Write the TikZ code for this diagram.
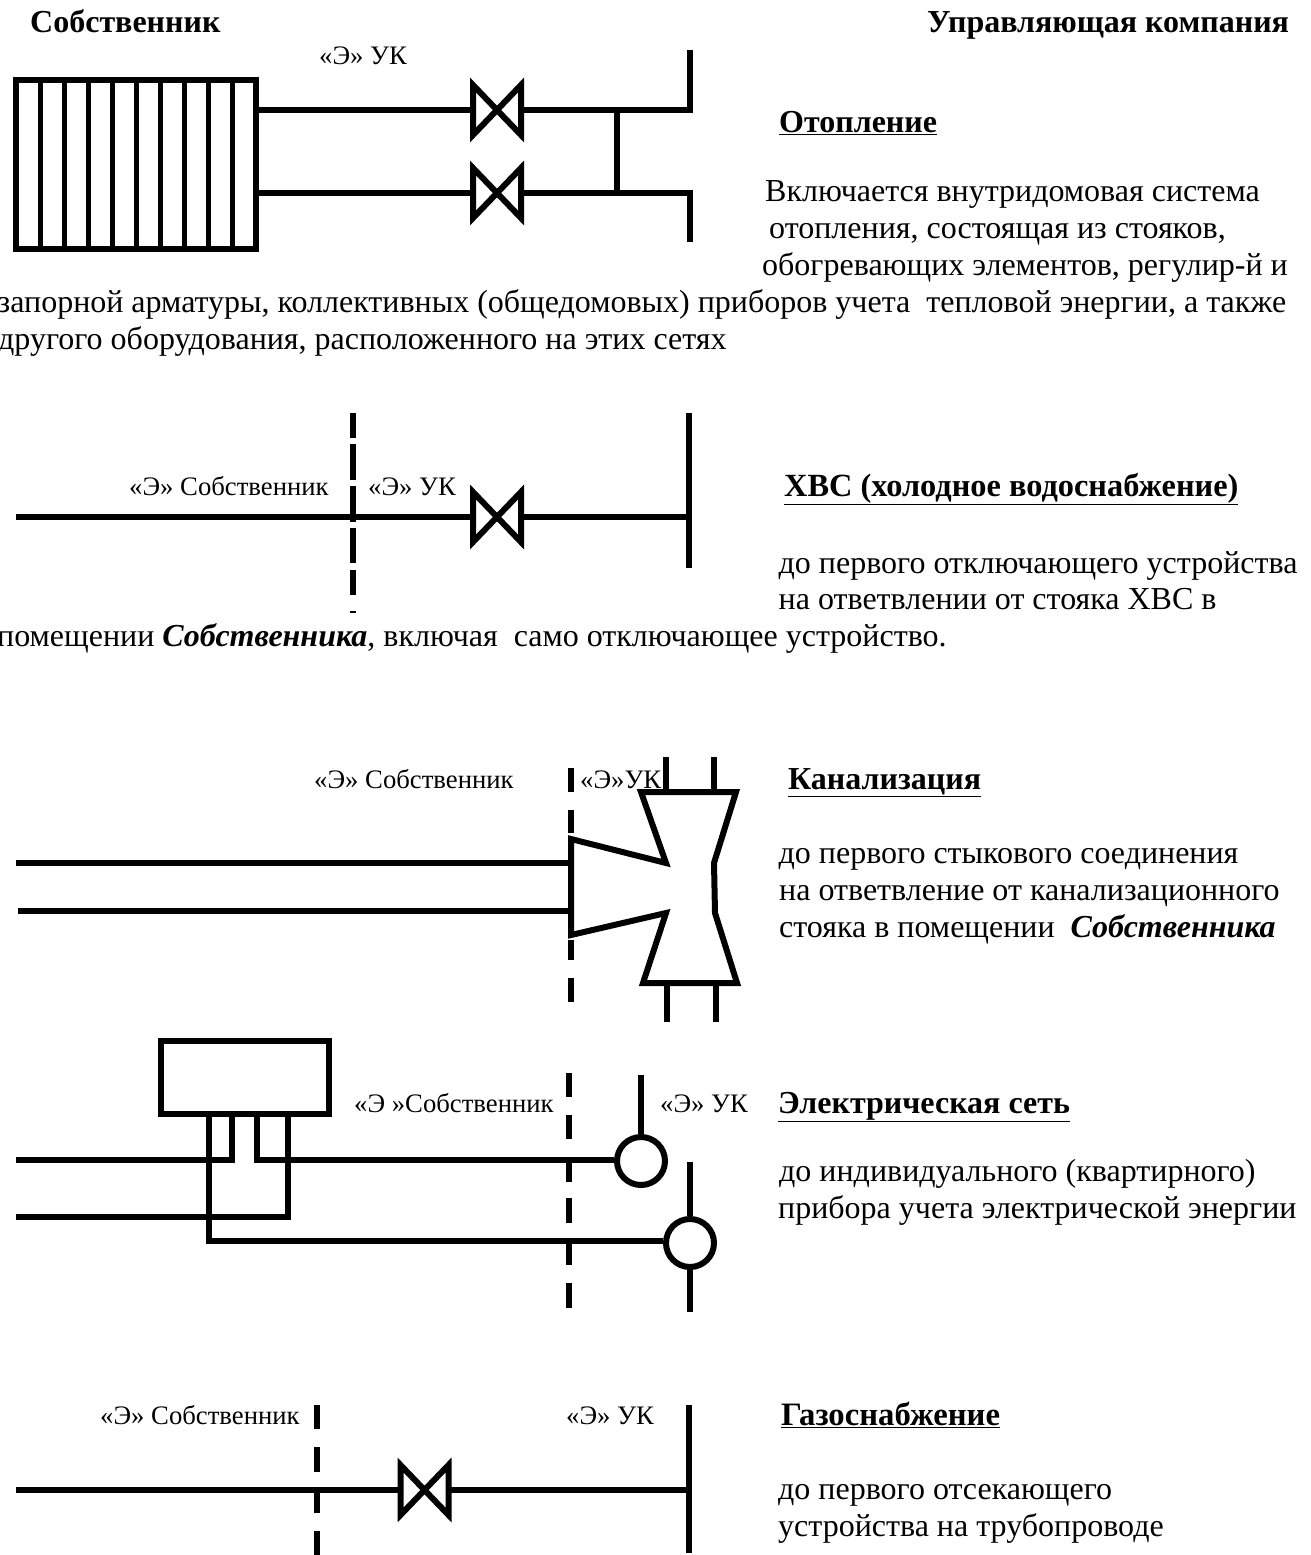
\documentclass[tikz,border=0pt]{standalone}
\usepackage{fontspec}
\setmainfont{Liberation Serif}
\tikzset{
  pipe/.style={line width=6pt,line cap=butt,line join=miter,draw=black},
  bar/.style={line width=5pt,line cap=butt,draw=black},
  body/.style={anchor=base west,inner sep=0pt,font=\fontsize{32}{34}\selectfont},
  head/.style={anchor=base west,inner sep=0pt,font=\fontsize{32}{34}\selectfont\bfseries},
  lab/.style={anchor=base west,inner sep=0pt,font=\fontsize{26.7}{30}\selectfont},
  valve/.pic={\fill[white] (-24,-25) rectangle (24,25);\draw[line width=6pt,line join=miter] (-24,-25) -- (24,25) -- (24,-25) -- (-24,25) -- cycle;}
}
\begin{document}
\begin{tikzpicture}[x=1pt,y=-1pt]
\useasboundingbox (0,0) rectangle (1311,1555);
\clip (0,0) rectangle (1311,1555);
% headers
\node[head] (h1) at (30,33) {Собственник};
\node[head] (h2) at (927,33) {Управляющая компания};
% heating
\draw[pipe] (16,80) rectangle (256,249);
\foreach \x in {40,64,88,112,136,160,184,208,232} \draw[bar] (\x,80) -- (\x,249);
\coordinate (r1) at (256,110); \coordinate (r2) at (256,193);
\coordinate (j1) at (617,110); \coordinate (j2) at (617,193);
\coordinate (t1) at (690,110); \coordinate (t2) at (690,193);
\draw[pipe] (r1) -- (t1);
\draw[pipe] (r2) -- (t2);
\draw[pipe] (j1) -- (j2);
\draw[pipe] (690,50) -- (690,113);
\draw[pipe] (690,190) -- (690,242);
\pic at (497,110) {valve};
\pic at (497,193) {valve};
\node[lab] (l1) at (319,65) {«Э» УК};
\node[head] (t11) at (779,132) {\underline{Отопление}};
\node[body] (b1) at (765,201) {Включается внутридомовая система};
\node[body] (b2) at (769,238) {отопления, состоящая из стояков,};
\node[body] (b3) at (762,275) {обогревающих элементов, регулир-й и};
\node[body] (b4) at (-2.5,312) {запорной арматуры, коллективных (общедомовых) приборов учета\ \ тепловой энергии, а также};
\node[body] (b5) at (-2,349) {другого оборудования, расположенного на этих сетях};
% cold water
\foreach \a/\b in {413/438,444/480,486/522,528/563,570/595,611/613} \draw[pipe] (353,\a) -- (353,\b);
\coordinate (c1) at (16,517); \coordinate (c2) at (689,517);
\draw[pipe] (c1) -- (c2);
\draw[pipe] (689,413) -- (689,568);
\pic at (497,517) {valve};
\node[lab] (l2) at (129,495) {«Э» Собственник};
\node[lab] (l3) at (368,495) {«Э» УК};
\node[head,font=\fontsize{32.35}{34}\selectfont\bfseries] (t21) at (784,496) {\underline{ХВС (холодное водоснабжение)}};
\node[body] (b6) at (778.5,573) {до первого отключающего устройства};
\node[body] (b7) at (778.5,609) {на ответвлении от стояка ХВС в};
\node[body] (b8) at (-3,646) {помещении \textbf{\textit{Собственника}}, включая\ \ само отключающее устройство.};
% sewer
\foreach \a/\b in {768/792,810/833,940/960,978/1002} \draw[pipe] (571,\a) -- (571,\b);
\draw[pipe] (571,839) -- (666,863) -- (641,792) -- (736,792) -- (714,863) -- (715,913) -- (737,983) -- (643,983) -- (666,913) -- (571,935) -- cycle;
\coordinate (s1) at (16,863); \coordinate (s2) at (571,863);
\coordinate (s3) at (18,911); \coordinate (s4) at (571,911);
\draw[pipe] (s1) -- (s2);
\draw[pipe] (s3) -- (s4);
\draw[pipe] (666,757) -- (666,792);
\draw[pipe] (714,757) -- (714,792);
\draw[pipe] (667,983) -- (667,1022);
\draw[pipe] (716,983) -- (716,1022);
\node[lab] (l4) at (314,788) {«Э» Собственник};
\node[lab] (l5) at (580,788) {«Э»УК};
\node[head] (t31) at (788,789) {\underline{Канализация}};
\node[body] (b9) at (778.5,863) {до первого стыкового соединения};
\node[body] (b10) at (779,900) {на ответвление от канализационного};
\node[body] (b11) at (779,937) {стояка в помещении\ \ \textbf{\textit{Собственника}}};
% electric
\node[pipe,draw,rectangle,minimum width=168pt,minimum height=73pt,inner sep=0pt] (meter) at (244.5,1077) {};
\foreach \a/\b in {1073/1097,1115/1139,1157/1182,1198/1223,1243/1265,1283/1308} \draw[pipe] (569,\a) -- (569,\b);
\node[pipe,draw,circle,minimum size=48pt,inner sep=0pt] (m1) at (641,1161) {};
\node[pipe,draw,circle,minimum size=48pt,inner sep=0pt] (m2) at (690,1243) {};
\draw[pipe] (209,1113) -- (209,1241) -- (m2.west |- 0,1241);
\draw[pipe] (232,1113) -- (232,1160) -- (16,1160);
\draw[pipe] (257,1113) -- (257,1160) -- (m1.west |- 0,1160);
\draw[pipe] (288,1113) -- (288,1217) -- (16,1217);
\draw[pipe] (m1.north) -- (641,1075);
\draw[pipe] (m2.north) -- (690,1162);
\draw[pipe] (m2.south) -- (690,1312);
\node[lab] (l6) at (354,1112) {«Э »Собственник};
\node[lab] (l7) at (660,1112) {«Э» УК};
\node[head] (t41) at (778,1113) {\underline{Электрическая сеть}};
\node[body] (b12) at (779,1181) {до индивидуального (квартирного)};
\node[body] (b13) at (778,1218) {прибора учета электрической энергии};
% gas
\foreach \a/\b in {1405/1429,1447/1472,1490/1513,1531/1555} \draw[pipe] (316.5,\a) -- (316.5,\b);
\coordinate (g1) at (16,1490); \coordinate (g2) at (689,1490);
\draw[pipe] (g1) -- (g2);
\draw[pipe] (689,1405) -- (689,1553);
\pic at (424.5,1490) {valve};
\node[lab] (l8) at (100,1424) {«Э» Собственник};
\node[lab] (l9) at (566,1424) {«Э» УК};
\node[head,font=\fontsize{32.7}{34}\selectfont\bfseries] (t51) at (781,1425) {\underline{Газоснабжение}};
\node[body] (b14) at (778,1499) {до первого отсекающего};
\node[body] (b15) at (778,1536) {устройства на трубопроводе};
\end{tikzpicture}
\end{document}
